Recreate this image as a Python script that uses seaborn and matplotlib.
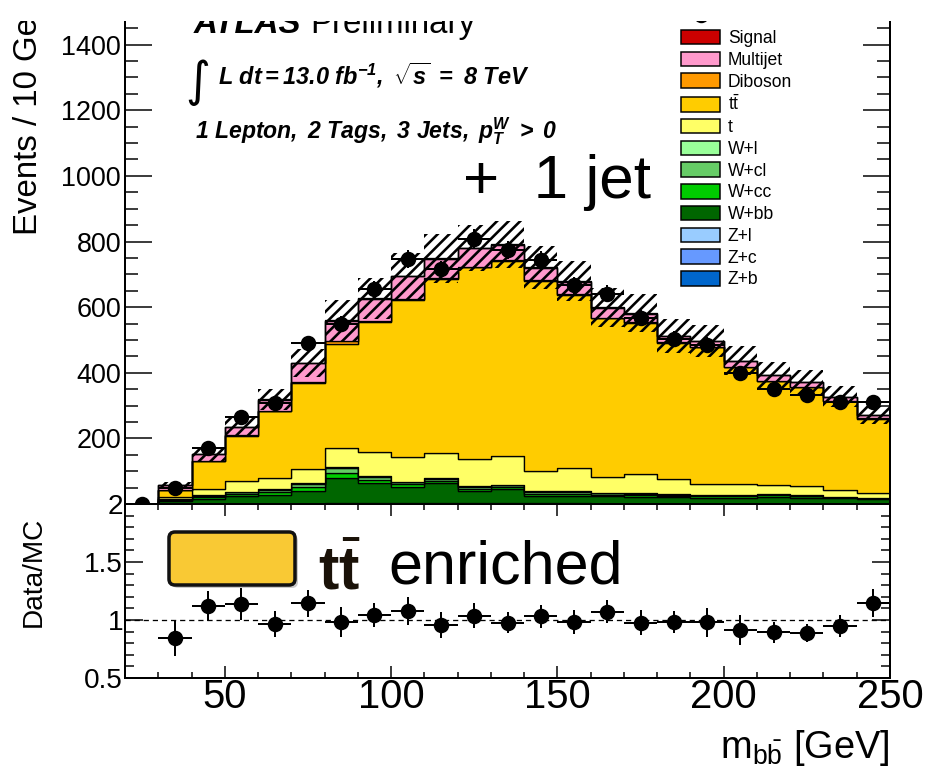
import numpy as np
import pandas as pd
import matplotlib
matplotlib.use("Agg")
import matplotlib.pyplot as plt
import seaborn as sns
from matplotlib.patches import Rectangle, FancyBboxPatch, Patch
from matplotlib.ticker import MultipleLocator, FuncFormatter
from matplotlib.transforms import IdentityTransform

# ---------------- data ----------------
bin_edges = [20, 30, 40, 50, 60, 70, 80, 90, 100, 110, 120, 130, 140, 150,
             160, 170, 180, 190, 200, 210, 220, 230, 240, 250]

z_b   = [0, 0.3, 0.5, 0.5, 0.5, 0.5, 1, 2, 1, 1, 2, 1, 1, 1, 1, 1, 1, 1, 1, 1, 1, 1, 1]
z_c   = [0, 0.2, 0.3, 0.4, 0.4, 0.5, 0.5, 0.6, 0.5, 0.5, 0.5, 0.5, 0.4, 0.4, 0.3, 0.3, 0.3, 0.3, 0.3, 0.3, 0.2, 0.2, 0.2]
z_l   = [0, 0.1, 0.2, 0.3, 0.3, 0.3, 0.4, 0.4, 0.4, 0.3, 0.3, 0.3, 0.3, 0.3, 0.2, 0.2, 0.2, 0.2, 0.2, 0.2, 0.2, 0.1, 0.1]
w_bb  = [0, 9, 14, 22, 26, 38, 78, 60, 50, 61, 37, 43, 22, 23, 22, 20, 19, 18, 18, 21, 18, 16, 13]
w_cc  = [0, 3, 5, 7, 10, 13, 15, 11, 8, 8, 7, 8, 8, 7, 5, 5, 4, 4, 4, 4, 4, 3, 3]
w_cl  = [0, 2, 4, 5, 6, 8, 14, 8, 6, 6, 5, 5, 6, 5, 4, 4, 3, 3, 3, 3, 2, 1, 1]
w_l   = [0, 1, 2, 2, 3, 4, 3, 2, 2, 2, 2, 1, 2, 2, 2, 2, 2, 1, 1, 1, 1, 1, 1]
single_top = [0, 7, 21, 32, 32, 43, 60, 73, 75, 77, 83, 86, 62, 71, 49, 59, 46, 34, 33, 28, 29, 21, 15]
ttbar = [0, 21, 85, 139, 204, 261, 315, 399, 479, 531, 584, 597, 579, 528, 483, 461, 416, 417, 357, 316, 301, 270, 226]
diboson = [0, 0.5, 0.5, 1, 1, 5, 10, 3, 2, 2, 2, 2, 2, 2, 1, 1, 1, 1, 1, 1, 1, 1, 1]
multijet = [0, 13, 19.5, 24, 35, 56, 62, 67, 70, 59, 56, 47, 38, 38, 31, 27, 19, 17, 18, 18, 15, 13, 10]
signal = [0, 0, 0.1, 0.2, 0.3, 0.4, 0.5, 0.6, 0.7, 0.8, 0.9, 0.9, 0.8, 0.6, 0.5, 0.4, 0.3, 0.2, 0.2, 0.1, 0.1, 0.1, 0.1]

data_2012 = [0, 48, 171, 266, 308, 491, 549, 654, 748, 715, 809, 773, 745, 667,
             641, 568, 504, 486, 398, 352, 331, 310, 311]
# relative MC uncertainty (hatched band)
mc_unc = [0, 0.15, 0.15, 0.12, 0.10, 0.10, 0.11, 0.10, 0.10, 0.10, 0.09, 0.09,
          0.09, 0.09, 0.10, 0.10, 0.10, 0.10, 0.10, 0.10, 0.10, 0.10, 0.10]
# ratio panel error bars (bins 30-250)
ratio_err = [0.15, 0.13, 0.14, 0.11, 0.115, 0.13, 0.10, 0.12, 0.11, 0.105, 0.09,
             0.10, 0.10, 0.10, 0.11, 0.095, 0.125, 0.13, 0.09, 0.08, 0.095, 0.12]

process_order = ["Signal", "Multijet", "Diboson", "ttbar", "t", "W+l", "W+cl",
                 "W+cc", "W+bb", "Z+l", "Z+c", "Z+b"]
legend_labels = ["Signal", "Multijet", "Diboson", r"t$\mathrm{\bar{t}}$", "t", "W+l",
                 "W+cl", "W+cc", "W+bb", "Z+l", "Z+c", "Z+b"]
process_colors = ["#CC0000", "#FF99CC", "#FF9900", "#FFCC00", "#FFFF66", "#99FF99",
                  "#66CC66", "#00CC00", "#006600", "#99CCFF", "#6699FF", "#0066CC"]
process_values = [signal, multijet, diboson, ttbar, single_top, w_l, w_cl, w_cc,
                  w_bb, z_l, z_c, z_b]

# ---------------- setup ----------------
DPI = 139
W, H = 927, 772


def pt(px):
    return px * 72.0 / DPI


def fx(px):
    return px / W


def fy(py):
    return 1 - py / H


sns.set_style("ticks")
plt.rcParams["font.family"] = ["Liberation Sans", "DejaVu Sans"]
plt.rcParams["mathtext.fontset"] = "custom"
plt.rcParams["mathtext.rm"] = "Liberation Sans"
plt.rcParams["mathtext.it"] = "Liberation Sans:italic"
plt.rcParams["mathtext.bf"] = "Liberation Sans:bold"
plt.rcParams["mathtext.bfit"] = "Liberation Sans:italic:bold"
plt.rcParams["hatch.linewidth"] = pt(2.6)
plt.rcParams["axes.linewidth"] = pt(2)
for key in ["text.color", "axes.labelcolor", "xtick.color", "ytick.color",
            "axes.edgecolor"]:
    plt.rcParams[key] = "black"

edges = np.array(bin_edges, dtype=float)
centers = 0.5 * (edges[:-1] + edges[1:])

rows = []
for name, vals in zip(process_order, process_values):
    for c, v in zip(centers, vals):
        rows.append({"mbb": c, "events": v, "process": name})
df = pd.DataFrame(rows)
palette = dict(zip(process_order, process_colors))

mc_total = np.sum(np.array(process_values, dtype=float), axis=0)
data = np.array(data_2012, dtype=float)

fig = plt.figure(figsize=(W / DPI, H / DPI), dpi=DPI)
fig.patch.set_facecolor("white")
ax = fig.add_axes([fx(125), fy(504), (890 - 125) / W, (504 - 21) / H])
ax2 = fig.add_axes([fx(125), fy(678), (890 - 125) / W, (678 - 504) / H])

# ---------------- upper panel ----------------
sns.histplot(data=df, x="mbb", weights="events", hue="process",
             hue_order=process_order, palette=palette, bins=list(bin_edges),
             multiple="stack", element="step", fill=True, alpha=1,
             edgecolor="black", linewidth=pt(1.3), legend=False, ax=ax)

unc = np.array(mc_unc)
lo = mc_total * (1 - unc)
hi = mc_total * (1 + unc)
ax.fill_between(edges, np.append(lo, lo[-1]), np.append(hi, hi[-1]), step="post",
                facecolor="none", edgecolor="black", hatch="////", linewidth=0,
                zorder=3)

data_cont = ax.errorbar(centers, data, xerr=5, yerr=np.sqrt(data), fmt="o",
                        color="black", ms=pt(13.5), elinewidth=pt(2),
                        capsize=0, zorder=5)

ax.set_xlim(20, 250)
ax.set_ylim(0, 1472)
ax.set_xlabel("")
ax.set_ylabel("")
ax.spines["top"].set_visible(False)
ax.xaxis.set_major_locator(MultipleLocator(50))
ax.xaxis.set_minor_locator(MultipleLocator(10))
ax.tick_params(axis="x", which="both", bottom=False, top=False, labelbottom=False)
ax.yaxis.set_major_locator(MultipleLocator(200))
ax.yaxis.set_minor_locator(MultipleLocator(50))
ax.yaxis.set_major_formatter(FuncFormatter(lambda v, p: "" if v == 0 else "%d" % v))
ax.tick_params(axis="y", which="both", direction="in", left=True, right=True,
               width=pt(1.5), labelsize=pt(27), pad=pt(4))
ax.tick_params(axis="y", which="major", length=pt(27))
ax.tick_params(axis="y", which="minor", length=pt(13))

handles = [data_cont] + [Patch(facecolor=c, edgecolor="black", linewidth=pt(1.5))
                         for c in process_colors]
labels = ["Data 2012"] + legend_labels
ax.legend(handles, labels, loc="upper left", bbox_to_anchor=(fx(681), fy(8)),
          bbox_transform=fig.transFigure, frameon=False, fontsize=pt(17.5),
          handlelength=39 / 17.5, handleheight=16 / 17.5, handletextpad=0.45,
          labelspacing=0.25, borderpad=0, borderaxespad=0)

# ---------------- ratio panel ----------------
has_mc = mc_total > 0
ratio = data[has_mc] / mc_total[has_mc]
ax2.axhline(1.0, color="black", lw=pt(1.3), ls=(0, (4, 3)), zorder=1)
ax2.errorbar(centers[has_mc], ratio, xerr=5, yerr=ratio_err, fmt="o",
             color="black", ms=pt(13.5), elinewidth=pt(2), capsize=0, zorder=5)
ax2.set_xlim(20, 250)
ax2.set_ylim(0.5, 2.0)
ax2.xaxis.set_major_locator(MultipleLocator(50))
ax2.xaxis.set_minor_locator(MultipleLocator(10))
ax2.yaxis.set_major_locator(MultipleLocator(0.5))
ax2.yaxis.set_minor_locator(MultipleLocator(0.1))
ax2.yaxis.set_major_formatter(FuncFormatter(lambda v, p: "%g" % v))
ax2.tick_params(which="both", direction="in", left=True, right=True, top=True,
                bottom=True, width=pt(1.5))
ax2.tick_params(axis="x", which="major", length=pt(12), labelsize=pt(40), pad=0)
ax2.tick_params(axis="x", which="minor", length=pt(6))
ax2.tick_params(axis="y", which="major", length=pt(18), labelsize=pt(28), pad=pt(2))
ax2.tick_params(axis="y", which="minor", length=pt(9))

# ---------------- texts ----------------
fig.text(fx(28.5), fy(235), "Events / 10 GeV", rotation=90, ha="center",
         va="bottom", fontsize=pt(33))
fig.text(fx(33.5), fy(572), "Data/MC", rotation=90, ha="center", va="center",
         fontsize=pt(28))
xlab = r"m$_{\mathrm{b\bar{b}}}$ [GeV]"
fig.text(fx(890), fy(758), xlab, ha="right", va="baseline", fontsize=pt(38))

fig.text(fx(194), fy(33), "ATLAS", fontweight="bold", fontstyle="italic",
         fontsize=pt(33), va="baseline")
fig.text(fx(310), fy(33), "Preliminary", fontsize=pt(33), va="baseline")
fig.text(fx(185), fy(96), "\u222b", family="DejaVu Sans", fontsize=pt(48),
         va="baseline")
fig.text(fx(218), fy(85), r"$\mathbfit{L\ dt=13.0\ fb^{-1},\ \sqrt{s}\ =\ 8\ TeV}$",
         fontsize=pt(23.5), va="baseline")
fig.text(fx(195), fy(138),
         r"$\mathbfit{1\ Lepton,\ 2\ Tags,\ 3\ Jets,\ p_{T}^{W}\ >\ 0}$",
         fontsize=pt(23), va="baseline")
fig.text(fx(463), fy(198), "+  1 jet", fontsize=pt(62), va="baseline")

# tt-bar enriched label
shadow = FancyBboxPatch((172, H - 588), 126, 53, boxstyle="round,pad=0,rounding_size=6",
                        transform=IdentityTransform(), facecolor="#999999",
                        edgecolor="none", alpha=0.5, zorder=4)
box = FancyBboxPatch((169, H - 585), 126, 53, boxstyle="round,pad=0,rounding_size=6",
                     transform=IdentityTransform(), facecolor="#F9C934",
                     edgecolor="#111111", linewidth=pt(3.5), zorder=5)
fig.add_artist(shadow)
fig.add_artist(box)
fig.text(fx(318), fy(589), r"$\mathbf{t}\bar{\mathbf{t}}$", fontsize=pt(61),
         va="baseline", color="#1a1208", zorder=6)
fig.text(fx(388), fy(583), "enriched", fontsize=pt(61), va="baseline", zorder=6)

# white strip hiding the top of the panel (as in the reference crop)
mask = Rectangle((0, fy(21)), 1, 21 / H, transform=fig.transFigure,
                 facecolor="white", edgecolor="none", zorder=10)
fig.add_artist(mask)
fig.text(fx(890), fy(-13), xlab, ha="right", va="baseline", fontsize=pt(38),
         zorder=11)

fig.savefig("out.png", dpi=DPI, facecolor="white")
